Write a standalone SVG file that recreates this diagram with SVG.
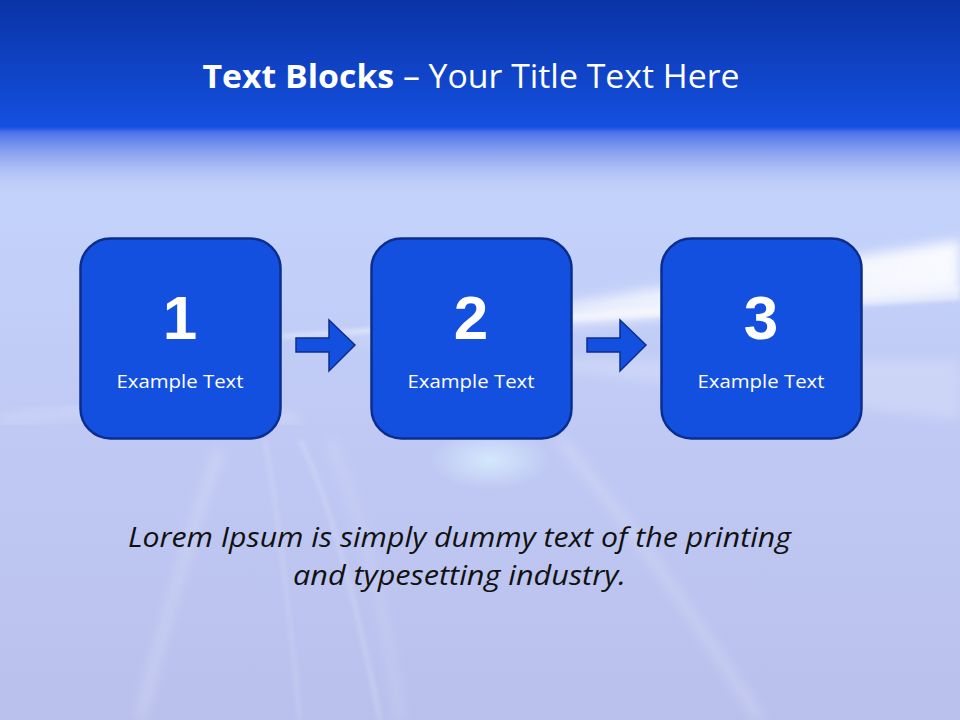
<svg xmlns="http://www.w3.org/2000/svg" width="960" height="720" viewBox="0 0 960 720">
<defs>
<linearGradient id="hdr" x1="0" y1="0" x2="0" y2="1">
<stop offset="0" stop-color="#0a33a6"/>
<stop offset="1" stop-color="#1450e0"/>
</linearGradient>
<linearGradient id="bg" x1="0" y1="0" x2="0" y2="1">
<stop offset="0" stop-color="#c2d0fa"/>
<stop offset="0.3" stop-color="#c3d2fa"/>
<stop offset="0.6" stop-color="#c0c9f4"/>
<stop offset="1" stop-color="#b9c0ec"/>
</linearGradient>
<linearGradient id="fade" x1="0" y1="0" x2="0" y2="1">
<stop offset="0" stop-color="#1a4ee6" stop-opacity="1"/>
<stop offset="0.08" stop-color="#3a62e8" stop-opacity="0.85"/>
<stop offset="0.45" stop-color="#6d88ea" stop-opacity="0.5"/>
<stop offset="1" stop-color="#c2d0fa" stop-opacity="0"/>
</linearGradient>
<linearGradient id="streak" x1="0" y1="0" x2="1" y2="0">
<stop offset="0" stop-color="#ffffff" stop-opacity="0"/>
<stop offset="0.5" stop-color="#ffffff" stop-opacity="0.7"/>
<stop offset="1" stop-color="#ffffff" stop-opacity="0.9"/>
</linearGradient>
<radialGradient id="glow" cx="0.5" cy="0.5" r="0.5">
<stop offset="0" stop-color="#d8f0ff" stop-opacity="0.8"/>
<stop offset="1" stop-color="#d8f0ff" stop-opacity="0"/>
</radialGradient>
<filter id="blur" x="-20%" y="-50%" width="140%" height="200%"><feGaussianBlur stdDeviation="6"/></filter>
<filter id="blur2" x="-20%" y="-50%" width="140%" height="200%"><feGaussianBlur stdDeviation="2"/></filter>
<style>
.box{fill:#1450e0;stroke:#0b2e8e;stroke-width:2.5}
.num{font-family:"Liberation Sans",Arial,sans-serif;font-weight:bold;font-size:62px;fill:#ffffff;text-anchor:middle}
.lbl{font-family:"Open Sans",Lato,sans-serif;font-size:18px;fill:#ffffff;text-anchor:middle}
.arr{fill:#1450e0;stroke:#0b2e8e;stroke-width:1.5;stroke-linejoin:miter}
.title{font-family:"Open Sans",Lato,sans-serif;font-size:33px;fill:#ffffff;text-anchor:middle}
.body{font-family:"Open Sans",Lato,sans-serif;font-style:italic;font-size:27px;fill:#111111;text-anchor:middle}
.fan{fill:none;stroke:#ffffff;opacity:0.2}
</style>
</defs>
<g id="background">
<rect x="0" y="0" width="960" height="720" fill="url(#bg)"/>
<path d="M300 345 L960 240 L960 290 L300 350 Z" fill="url(#streak)" filter="url(#blur)"/>
<path d="M280 335 L960 285 L960 300 L280 338 Z" fill="#ffffff" opacity="0.5" filter="url(#blur2)"/>
<path d="M560 360 L960 360 L960 420 L560 370 Z" fill="#ffffff" opacity="0.2" filter="url(#blur)"/>
<ellipse cx="490" cy="460" rx="60" ry="30" fill="url(#glow)"/>
<path class="fan" d="M265 440 Q280 520 300 720" stroke-width="3" filter="url(#blur2)"/>
<path class="fan" d="M300 440 Q340 520 380 720" stroke-width="4" filter="url(#blur2)"/>
<path class="fan" d="M330 440 Q380 560 400 720" stroke-width="6" filter="url(#blur)"/>
<path class="fan" d="M220 450 Q180 560 140 720" stroke-width="10" filter="url(#blur)"/>
<path class="fan" d="M560 440 Q660 560 760 720" stroke-width="10" filter="url(#blur)"/>
<path class="fan" d="M0 420 Q150 400 300 420" stroke-width="10" filter="url(#blur)"/>
<rect x="0" y="127" width="960" height="70" fill="url(#fade)"/>
<rect x="0" y="0" width="960" height="127" fill="url(#hdr)"/>
</g>
<g id="title">
<text class="title" x="471" y="88" textLength="537" lengthAdjust="spacingAndGlyphs"><tspan font-weight="bold">Text Blocks</tspan> – Your Title Text Here</text>
</g>
<g id="connectors">
<path id="arrow1" class="arr" d="M296 338 L329 338 L329 320 L355 345 L329 371 L329 352 L296 352 Z"/>
<path id="arrow2" class="arr" d="M587 338 L620 338 L620 320 L646 345 L620 371 L620 352 L587 352 Z"/>
</g>
<g id="node1">
<rect class="box" x="80.5" y="238.5" width="200" height="200" rx="30"/>
<text class="num" x="180" y="339">1</text>
<text class="lbl" x="180" y="388" textLength="127" lengthAdjust="spacingAndGlyphs">Example Text</text>
</g>
<g id="node2">
<rect class="box" x="371.5" y="238.5" width="200" height="200" rx="30"/>
<text class="num" x="471" y="339">2</text>
<text class="lbl" x="471" y="388" textLength="127" lengthAdjust="spacingAndGlyphs">Example Text</text>
</g>
<g id="node3">
<rect class="box" x="661.5" y="238.5" width="200" height="200" rx="30"/>
<text class="num" x="761" y="339">3</text>
<text class="lbl" x="761" y="388" textLength="127" lengthAdjust="spacingAndGlyphs">Example Text</text>
</g>
<g id="body">
<text class="body" x="459.5" y="547" textLength="663" lengthAdjust="spacingAndGlyphs">Lorem Ipsum is simply dummy text of the printing</text>
<text class="body" x="459.5" y="585" textLength="333" lengthAdjust="spacingAndGlyphs">and typesetting industry.</text>
</g>
</svg>
